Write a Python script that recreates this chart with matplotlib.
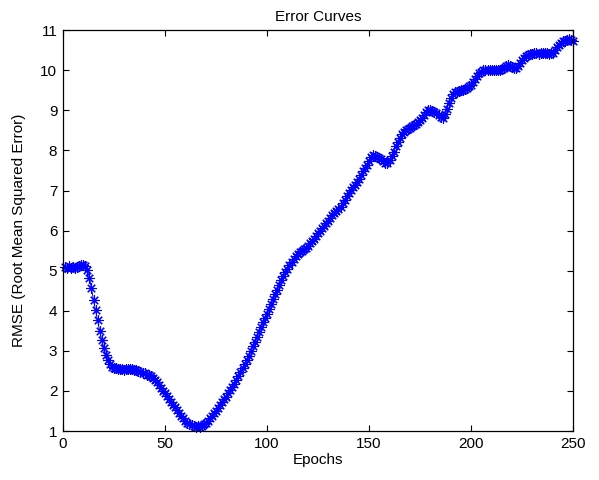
import numpy as np
import matplotlib
matplotlib.use('Agg')
import matplotlib.pyplot as plt

# RMSE per epoch (epochs 1..250)
RMSE_1_50 = [5.10, 5.08, 5.11, 5.07, 5.09, 5.06, 5.10, 5.12, 5.14, 5.15,
             5.13, 5.02, 4.82, 4.56, 4.26, 4.01, 3.76, 3.50, 3.28, 3.08,
             2.90, 2.77, 2.67, 2.61, 2.58, 2.57, 2.55, 2.56, 2.54, 2.53,
             2.55, 2.56, 2.54, 2.55, 2.53, 2.52, 2.50, 2.48, 2.46, 2.44,
             2.41, 2.39, 2.37, 2.33, 2.28, 2.22, 2.15, 2.08, 2.01, 1.94]
RMSE_51_100 = [1.87, 1.80, 1.73, 1.66, 1.59, 1.52, 1.45, 1.38, 1.32, 1.26,
               1.21, 1.17, 1.14, 1.12, 1.11, 1.12, 1.11, 1.13, 1.17, 1.21,
               1.26, 1.32, 1.38, 1.45, 1.51, 1.58, 1.65, 1.72, 1.79, 1.86,
               1.94, 2.02, 2.10, 2.18, 2.27, 2.37, 2.47, 2.57, 2.67, 2.77,
               2.88, 3.00, 3.11, 3.23, 3.35, 3.47, 3.59, 3.71, 3.82, 3.93]
RMSE_101_150 = [4.05, 4.17, 4.29, 4.41, 4.53, 4.64, 4.76, 4.86, 4.96, 5.05,
                5.14, 5.22, 5.30, 5.37, 5.42, 5.46, 5.49, 5.53, 5.57, 5.62,
                5.68, 5.74, 5.80, 5.87, 5.93, 5.99, 6.06, 6.12, 6.18, 6.24,
                6.31, 6.38, 6.44, 6.50, 6.55, 6.60, 6.68, 6.77, 6.86, 6.95,
                7.02, 7.08, 7.14, 7.22, 7.30, 7.39, 7.48, 7.56, 7.65, 7.74]
RMSE_151_200 = [7.83, 7.88, 7.86, 7.84, 7.82, 7.78, 7.74, 7.70, 7.69, 7.75,
                7.85, 7.97, 8.10, 8.21, 8.32, 8.40, 8.46, 8.50, 8.53, 8.56,
                8.60, 8.63, 8.66, 8.70, 8.75, 8.81, 8.88, 8.95, 9.00, 9.01,
                8.99, 8.96, 8.93, 8.88, 8.83, 8.80, 8.90, 9.04, 9.18, 9.30,
                9.40, 9.45, 9.47, 9.48, 9.50, 9.51, 9.53, 9.56, 9.60, 9.64]
RMSE_201_250 = [9.71, 9.79, 9.87, 9.93, 9.97, 10.00, 10.01, 10.00, 10.01, 10.00,
                10.01, 10.00, 10.02, 10.01, 10.03, 10.06, 10.10, 10.13, 10.12, 10.09,
                10.06, 10.05, 10.10, 10.18, 10.25, 10.31, 10.35, 10.38, 10.40, 10.41,
                10.42, 10.42, 10.41, 10.43, 10.42, 10.42, 10.43, 10.41, 10.42, 10.44,
                10.50, 10.57, 10.63, 10.68, 10.72, 10.74, 10.76, 10.77, 10.76, 10.72]

RMSE = RMSE_1_50 + RMSE_51_100 + RMSE_101_150 + RMSE_151_200 + RMSE_201_250
EPOCHS = np.arange(1, len(RMSE) + 1)

X_TICKS = [0, 50, 100, 150, 200, 250]
Y_TICKS = list(range(1, 12))

plt.rcParams['font.family'] = ['Liberation Sans', 'DejaVu Sans']

fig = plt.figure(figsize=(5.99, 4.80), dpi=100)
fig.patch.set_facecolor('white')
ax = fig.add_axes([0.105, 0.102, 0.852, 0.835])

# matlab style 'b-*'
ax.plot(EPOCHS, RMSE, color='#0000ff', linewidth=0.7,
        marker=(8, 2, 0), markersize=7.5, markeredgewidth=0.8, clip_on=False)

ax.set_xlim(0, 250)
ax.set_ylim(1, 11)
ax.set_xticks(X_TICKS)
ax.set_yticks(Y_TICKS)
ax.tick_params(direction='in', top=True, right=True, length=4, width=0.8,
               labelsize=11, colors='black', pad=4)
for spine in ax.spines.values():
    spine.set_linewidth(0.9)

ax.set_title('Error Curves', fontsize=11, pad=6.5)
ax.set_xlabel('Epochs', fontsize=11, labelpad=2)
ax.set_ylabel('RMSE (Root Mean Squared Error)', fontsize=11, labelpad=10)

fig.savefig('out.png', dpi=100)
